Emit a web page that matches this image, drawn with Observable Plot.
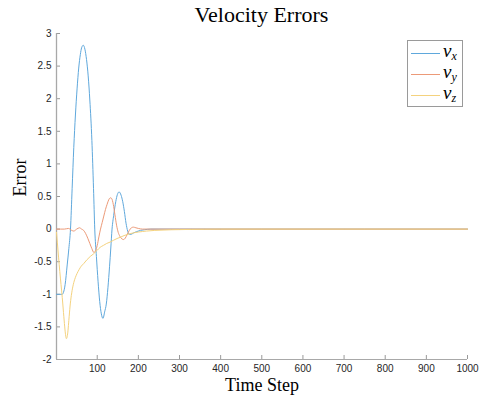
<!DOCTYPE html>
<html><head><meta charset="utf-8">
<script src="https://cdn.jsdelivr.net/npm/d3@7"></script>
<script src="https://cdn.jsdelivr.net/npm/@observablehq/plot@0.6"></script>
<style>
body{margin:0;background:#fff;}
#wrap{position:relative;width:482px;height:397px;overflow:hidden;}
#title{margin-left:56px;width:411px;height:30px;line-height:30px;text-align:center;font-family:"Liberation Serif","DejaVu Serif",serif;font-size:22px;color:#000;}
#legend{position:absolute;left:407px;top:40px;width:56px;height:67px;border:1px solid #9a9a9a;background:#fff;box-sizing:border-box;}
.row{position:absolute;left:3px;height:20px;display:flex;align-items:center;}
.sw{width:29px;height:0;border-top:1px solid;margin-right:3px;}
.lab{font-family:"Liberation Serif","DejaVu Serif",serif;font-style:italic;font-size:19px;line-height:20px;}
.lab sub{font-size:12px;vertical-align:-3px;}
</style>
</head><body>
<div id="wrap">
  <div id="title">Velocity Errors</div>
  <div id="chart"></div>
  <div id="legend"></div>
</div>
<script>
// ---- data ----
const seriesNames = ["x", "y", "z"]; // subscripts of v
const seriesColors = ["#5fa8dc", "#ec9a78", "#f4d27e"];

const vxStep = [1, 8, 15, 18, 22, 27, 31, 35, 39, 43, 47, 51, 55, 59, 62, 66, 70, 74, 78, 82, 87, 91, 94, 98, 102, 106, 110, 114, 118, 122, 126, 130, 133, 136, 140, 145, 149, 153, 158, 162, 166, 170, 174, 178, 182, 188, 195, 205, 215, 230, 300, 500, 1000];
const vxErr  = [-1, -1, -1, -0.97, -0.85, -0.55, -0.3, 0, 0.62, 1.25, 1.75, 2.15, 2.47, 2.68, 2.78, 2.82, 2.76, 2.6, 2.35, 1.98, 1.36, 0.62, 0, -0.42, -0.8, -1.11, -1.3, -1.37, -1.27, -1.15, -0.9, -0.57, -0.29, 0, 0.21, 0.42, 0.53, 0.57, 0.52, 0.42, 0.27, 0.09, -0.03, -0.08, -0.08, -0.06, -0.04, -0.02, -0.01, 0, 0, 0, 0];

const vyStep = [1, 20, 30, 38, 43, 50, 57, 62, 67, 72, 77, 82, 87, 92, 96, 100, 104, 108, 112, 116, 120, 124, 128, 132, 135, 139, 143, 147, 151, 155, 160, 164, 168, 173, 178, 183, 188, 194, 200, 210, 250, 1000];
const vyErr  = [0, 0, 0.01, -0.02, -0.03, 0, 0.02, 0, -0.02, -0.07, -0.14, -0.22, -0.3, -0.36, -0.33, -0.25, -0.12, 0, 0.1, 0.2, 0.3, 0.38, 0.45, 0.48, 0.47, 0.38, 0.22, 0.06, -0.05, -0.11, -0.15, -0.16, -0.14, -0.08, -0.02, 0.02, 0.03, 0.02, 0.01, 0, 0, 0];

const vzStep = [1, 3, 6, 9, 12, 15, 18, 21, 23, 25, 27, 29, 31, 34, 37, 39, 43, 47, 51, 56, 61, 67, 75, 83, 91, 99, 107, 115, 123, 131, 140, 148, 156, 165, 172, 180, 190, 200, 210, 220, 240, 260, 280, 300, 330, 360, 400, 1000];
const vzErr  = [-0.05, -0.2, -0.43, -0.65, -0.85, -1.05, -1.28, -1.5, -1.62, -1.68, -1.65, -1.55, -1.4, -1.18, -1.02, -0.94, -0.82, -0.74, -0.68, -0.62, -0.57, -0.53, -0.47, -0.42, -0.38, -0.33, -0.28, -0.25, -0.22, -0.2, -0.17, -0.145, -0.125, -0.1, -0.085, -0.07, -0.055, -0.045, -0.037, -0.03, -0.02, -0.015, -0.01, -0.008, -0.004, -0.002, 0, 0];

const xTicks = [100, 200, 300, 400, 500, 600, 700, 800, 900, 1000];
const yTicks = [-2, -1.5, -1, -0.5, 0, 0.5, 1, 1.5, 2, 2.5, 3];
const xDomain = [1, 1000];
const yDomain = [-2, 3];
const titleText = "Velocity Errors";
const xLabel = "Time Step";
const yLabel = "Error";

// ---- build ----
const toRows = (ts, vs) => ts.map((t, i) => ({t, v: vs[i]}));
const series = [toRows(vxStep, vxErr), toRows(vyStep, vyErr), toRows(vzStep, vzErr)];
const serif = "Liberation Serif, DejaVu Serif, serif";
const sans = "Liberation Sans, Arial, Helvetica, sans-serif";

document.getElementById("title").textContent = titleText;

const chart = Plot.plot({
  width: 482,
  height: 367,
  marginLeft: 56,
  marginRight: 15,
  marginTop: 3,
  marginBottom: 38,
  style: {fontFamily: sans, fontSize: "10px", overflow: "visible", background: "transparent"},
  x: {domain: xDomain},
  y: {domain: yDomain},
  marks: [
    Plot.axisX({ticks: xTicks, tickSize: -4, tickPadding: 9, label: null, tickFormat: d => String(d), color: "#262626"}),
    Plot.axisY({ticks: yTicks, tickSize: -4, tickPadding: 9, label: null, tickFormat: d => String(d), color: "#262626"}),
    Plot.ruleX([xDomain[0]], {stroke: "#a8a8a8", strokeWidth: 1.3}),
    Plot.ruleY([yDomain[0]], {stroke: "#a8a8a8", strokeWidth: 1}),
    ...series.map((rows, i) => Plot.line(rows, {x: "t", y: "v", stroke: seriesColors[i], strokeWidth: 1, curve: "monotone-x"})),
    Plot.text([xLabel], {frameAnchor: "bottom", dy: 26, lineAnchor: "middle", fontFamily: serif, fontSize: 18, fill: "#000"}),
    Plot.text([yLabel], {frameAnchor: "left", dx: -36, rotate: -90, lineAnchor: "middle", fontFamily: serif, fontSize: 18, fill: "#000"})
  ]
});
document.getElementById("chart").appendChild(chart);
// tick marks in light gray like the reference
d3.select(chart).selectAll('g[aria-label="x-axis tick"], g[aria-label="y-axis tick"]').attr("stroke", "#9a9a9a");

// legend
const legend = document.getElementById("legend");
seriesNames.forEach((s, i) => {
  const row = document.createElement("div");
  row.className = "row";
  row.style.top = (2 + i * 21) + "px";
  const sw = document.createElement("span");
  sw.className = "sw";
  sw.style.borderColor = seriesColors[i];
  const lab = document.createElement("span");
  lab.className = "lab";
  lab.innerHTML = "v<sub>" + s + "</sub>";
  row.appendChild(sw);
  row.appendChild(lab);
  legend.appendChild(row);
});
</script>
</body></html>
